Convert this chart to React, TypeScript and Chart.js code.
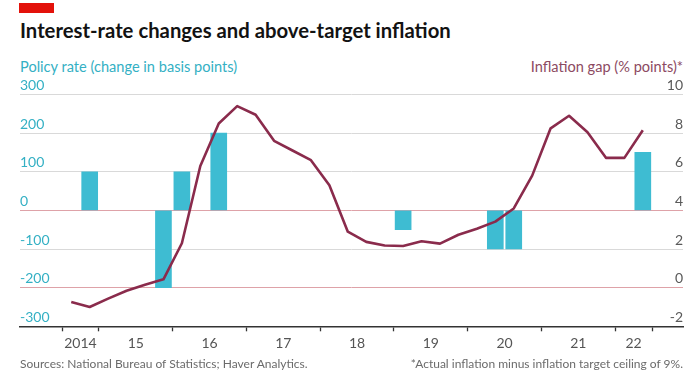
import React, { useEffect, useRef } from "react";
import { Chart, registerables } from "chart.js";

Chart.register(...registerables);

// Quarterly inflation gap (percentage points), Q3 2014 – Q2 2022
const quarters = [
  "2014Q3", "2014Q4",
  "2015Q1", "2015Q2", "2015Q3", "2015Q4",
  "2016Q1", "2016Q2", "2016Q3", "2016Q4",
  "2017Q1", "2017Q2", "2017Q3", "2017Q4",
  "2018Q1", "2018Q2", "2018Q3", "2018Q4",
  "2019Q1", "2019Q2", "2019Q3", "2019Q4",
  "2020Q1", "2020Q2", "2020Q3", "2020Q4",
  "2021Q1", "2021Q2", "2021Q3", "2021Q4",
  "2022Q1", "2022Q2",
];
const inflationGap = [
  -0.74, -1.0,
  -0.57, -0.16, 0.15, 0.43,
  2.3, 6.3, 8.5, 9.4,
  8.95, 7.6, 7.1, 6.6,
  5.3, 2.9, 2.37, 2.18,
  2.16, 2.4, 2.28, 2.74,
  3.05, 3.42, 4.1, 5.8,
  8.25, 8.9, 8.05, 6.72,
  6.72, 8.15,
];

// Policy-rate changes (basis points)
const rateChangeQuarters = ["2014Q4", "2015Q4", "2016Q1", "2016Q3", "2019Q1", "2020Q2", "2020Q3", "2022Q2"];
const rateChanges = [100, -200, 100, 200, -50, -100, -100, 150];

// Axis ticks
const policyTicks = [-300, -200, -100, 0, 100, 200, 300];
const gapTicks = [-2, 0, 2, 4, 6, 8, 10];
const yearBoundaries = [2014.5, 2015, 2016, 2017, 2018, 2019, 2020, 2021, 2022, 2022.5];
const yearLabels = ["2014", "15", "16", "17", "18", "19", "20", "21", "22"];

const TEAL = "#3ebcd2";
const TEAL_TEXT = "#34b0c4";
const LINE = "#8a2b4c";
const GRID = "#d9d9d9";
const RED_GRID = "#dea2a8";
const FONT = "Lato, 'Open Sans', sans-serif";

function qToYear(q: string): number {
  const y = Number(q.slice(0, 4));
  const n = Number(q.slice(5));
  return y + (n - 0.5) / 4;
}

// interleave boundaries (tick marks) with mid-points (labels)
const xTickValues: number[] = [];
yearBoundaries.forEach((b, i) => {
  xTickValues.push(b);
  if (i < yearBoundaries.length - 1) xTickValues.push((b + yearBoundaries[i + 1]) / 2);
});

export default function App() {
  const ref = useRef<HTMLCanvasElement>(null);

  useEffect(() => {
    if (!ref.current) return;
    const chart = new Chart(ref.current, {
      data: {
        datasets: [
          {
            type: "line",
            label: "Inflation gap",
            data: quarters.map((q, i) => ({ x: qToYear(q), y: inflationGap[i] })),
            yAxisID: "y2",
            borderColor: LINE,
            borderWidth: 2.6,
            pointRadius: 0,
            tension: 0,
            borderJoinStyle: "round",
            order: 0,
          } as any,
          {
            type: "bar",
            label: "Policy rate",
            data: rateChangeQuarters.map((q, i) => ({ x: qToYear(q), y: rateChanges[i] })),
            yAxisID: "y",
            backgroundColor: TEAL,
            barThickness: 16,
            order: 1,
          } as any,
        ],
      },
      options: {
        animation: false,
        responsive: false,
        maintainAspectRatio: false,
        layout: { padding: { left: 20, right: 17, top: 94.5, bottom: 18.9 } },
        plugins: { legend: { display: false }, tooltip: { enabled: false } },
        scales: {
          x: {
            type: "linear",
            offset: false,
            min: 2013.93,
            max: 2022.92,
            afterBuildTicks: (s: any) => {
              s.ticks = xTickValues.map((v) => ({ value: v }));
            },
            ticks: {
              autoSkip: false,
              maxRotation: 0,
              padding: 4,
              color: "#555555",
              font: { family: FONT, size: 14 },
              callback: (_v: any, index: number) => (index % 2 === 1 ? yearLabels[(index - 1) / 2] : ""),
            },
            grid: {
              offset: false,
              drawOnChartArea: false,
              drawTicks: true,
              tickLength: 5,
              tickWidth: 1.3,
              tickColor: (ctx: any) => (ctx.index % 2 === 0 ? "#333333" : "rgba(0,0,0,0)"),
            },
            border: { display: true, color: "#333333", width: 1.5 },
          },
          y: {
            type: "linear",
            position: "left",
            min: -300,
            max: 300,
            afterBuildTicks: (s: any) => {
              s.ticks = policyTicks.map((v) => ({ value: v }));
            },
            ticks: {
              mirror: true,
              padding: 0,
              labelOffset: -9,
              color: TEAL_TEXT,
              font: { family: FONT, size: 14 },
            },
            grid: {
              drawTicks: false,
              lineWidth: 1,
              color: (ctx: any) => {
                const v = ctx.tick ? ctx.tick.value : null;
                if (v === -300) return "rgba(0,0,0,0)";
                if (v === 0 || v === -200) return RED_GRID;
                return GRID;
              },
            },
            border: { display: false },
          },
          y2: {
            type: "linear",
            position: "right",
            min: -2,
            max: 10,
            afterBuildTicks: (s: any) => {
              s.ticks = gapTicks.map((v) => ({ value: v }));
            },
            ticks: {
              mirror: true,
              padding: 0,
              labelOffset: -9,
              color: "#595959",
              font: { family: FONT, size: 14 },
            },
            grid: { display: false, drawTicks: false },
            border: { display: false },
          },
        },
      } as any,
    });
    return () => chart.destroy();
  }, []);

  const abs: React.CSSProperties = { position: "absolute", whiteSpace: "nowrap", lineHeight: 1 };

  return (
    <div
      style={{
        position: "fixed",
        left: 0,
        top: 0,
        width: 700,
        height: 375,
        background: "#ffffff",
        fontFamily: FONT,
        overflow: "hidden",
      }}
    >
      <div style={{ ...abs, left: 19, top: 3, width: 35, height: 10, background: "#e3120b" }} />
      <div style={{ ...abs, left: 20, top: 20, fontSize: 20.3, fontWeight: 700, color: "#121212" }}>
        Interest-rate changes and above-target inflation
      </div>
      <div style={{ ...abs, left: 20, top: 60, fontSize: 14.6, color: TEAL_TEXT }}>
        Policy rate (change in basis points)
      </div>
      <div style={{ ...abs, right: 17, top: 60, fontSize: 14.6, color: "#8c4a62" }}>
        Inflation gap (% points)*
      </div>
      <canvas ref={ref} width={700} height={375} style={{ position: "absolute", left: 0, top: 0, width: 700, height: 375 }} />
      <div style={{ ...abs, left: 20, top: 358, fontSize: 12, color: "#6b6b6b" }}>
        Sources: National Bureau of Statistics; Haver Analytics.
      </div>
      <div style={{ ...abs, right: 17, top: 358, fontSize: 12, color: "#6b6b6b" }}>
        *Actual inflation minus inflation target ceiling of 9%.
      </div>
    </div>
  );
}
